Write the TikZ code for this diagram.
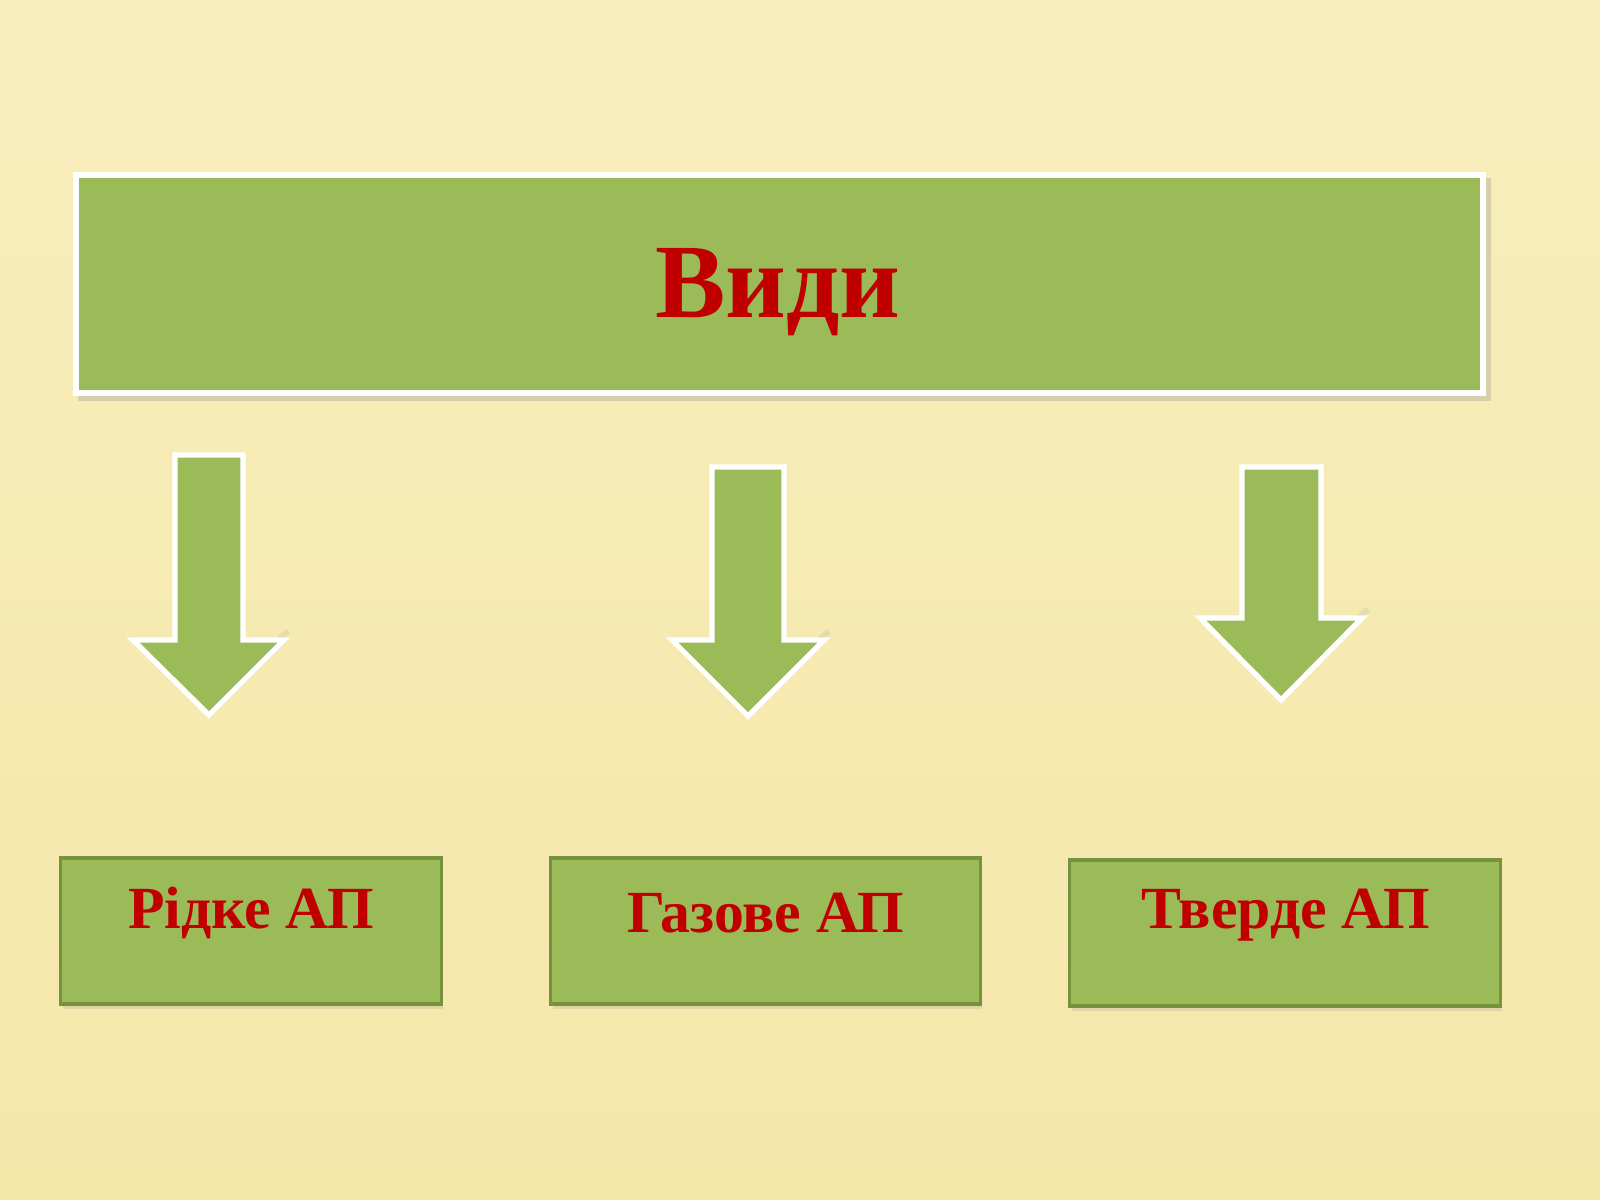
\documentclass[tikz,border=0pt]{standalone}
\usepackage{fontspec}
\setmainfont{Liberation Serif}
\definecolor{bgtop}{HTML}{F8EEBC}
\definecolor{bgbot}{HTML}{F5E7AA}
\definecolor{boxgreen}{HTML}{9BBB59}
\definecolor{darkgreen}{HTML}{76923C}
\definecolor{txtred}{HTML}{C00000}
\tikzset{
  px/.style={x=0.01cm,y=-0.01cm},
  topbox/.style={draw=white,line width=1.7pt,fill=boxgreen,minimum width=14.07cm,minimum height=2.17cm,inner sep=0pt},
  subbox/.style={draw=darkgreen,line width=0.9pt,fill=boxgreen,inner sep=0pt},
  bigarrow/.style={draw=white,line width=1.5pt,fill=boxgreen,line join=miter},
  shadowline/.style={draw=black!45,line width=1.7pt,opacity=0.3},
  toptext/.style={text=txtred,font=\fontsize{30}{34}\selectfont\bfseries},
  subtext/.style={text=txtred,font=\fontsize{17}{20}\selectfont\bfseries}
}
\begin{document}
\begin{tikzpicture}[px]
\useasboundingbox (0,0) rectangle (1600,1200);
\shade[top color=bgtop,bottom color=bgbot] (0,0) rectangle (1600,1200);
% top box
\draw[shadowline] (78,398) -- (1488,398) -- (1488,178);
\node[topbox] (top) at (779.5,284) {};
\node[toptext] (topt) at (778,292) {Види};
% arrows
\draw[shadowline,opacity=0.15] (211,702) -- (288,631);
\draw[bigarrow] (175,455) -- (243,455) -- (243,640) -- (284,640) -- (209,715) -- (133,640) -- (175,640) -- cycle;
\draw[shadowline,opacity=0.15] (749,704) -- (829,631);
\draw[bigarrow] (712,467) -- (784,467) -- (784,640) -- (824,640) -- (748,716) -- (672,640) -- (712,640) -- cycle;
\draw[shadowline,opacity=0.15] (1282,692) -- (1368,609);
\draw[bigarrow] (1242,467) -- (1321,467) -- (1321,618) -- (1362,618) -- (1281,700) -- (1200,618) -- (1242,618) -- cycle;
% bottom boxes
\draw[shadowline,opacity=0.2,line width=1pt] (63,1007) -- (443,1007);
\node[subbox,minimum width=3.8cm,minimum height=1.46cm] (b1) at (251,931) {};
\node[subtext] (t1) at (251,913) {Рідке АП};
\draw[shadowline,opacity=0.2,line width=1pt] (553,1007) -- (982,1007);
\node[subbox,minimum width=4.29cm,minimum height=1.46cm] (b2) at (765.5,931) {};
\node[subtext] (t2) at (766,913) {Газове АП};
\draw[shadowline,opacity=0.2,line width=1pt] (1072,1009) -- (1502,1009);
\node[subbox,minimum width=4.3cm,minimum height=1.46cm] (b3) at (1285,933) {};
\node[subtext] (t3) at (1286,915) {Тверде АП};
\end{tikzpicture}
\end{document}
